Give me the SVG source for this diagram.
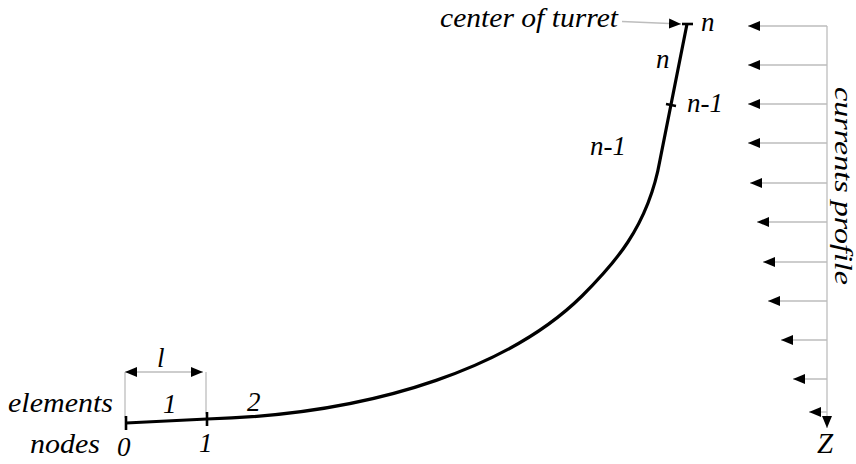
<svg xmlns="http://www.w3.org/2000/svg" width="856" height="464" viewBox="0 0 856 464">
<style>
text{font-family:"Liberation Serif",serif;font-style:italic;font-size:27px;fill:#000}
.g{stroke:#bdbdbd;stroke-width:1.3;fill:none}
.cable{stroke:#000;stroke-width:3.2;fill:none;stroke-linecap:butt}
.tick{stroke:#000;stroke-width:2.6;fill:none}
</style>
<defs>
<marker id="ah" viewBox="0 0 12 10" refX="12" refY="5" markerWidth="12" markerHeight="10" markerUnits="userSpaceOnUse" orient="auto">
<path d="M0,0 L12,5 L0,10 Z" fill="#000"/>
</marker>
<marker id="ahs" viewBox="0 0 12 10" refX="12" refY="5" markerWidth="12" markerHeight="10" markerUnits="userSpaceOnUse" orient="auto-start-reverse">
<path d="M0,0 L12,5 L0,10 Z" fill="#000"/>
</marker>
</defs>
<rect width="856" height="464" fill="#fff"/>

<g id="connectors">
<path class="cable" d="M126,423 L207,419 C 385,414 515,362 582,296 C 612,266 648,228 660,160 L687,24"/>
<line class="g" x1="622" y1="21.5" x2="681" y2="24" marker-end="url(#ah)"/>
<line class="g" x1="125" y1="372" x2="125" y2="418"/>
<line class="g" x1="206" y1="372" x2="206" y2="414"/>
<line class="g" x1="125" y1="372" x2="203" y2="372" marker-start="url(#ahs)" marker-end="url(#ah)"/>
</g>

<g id="currents">
<line class="g" x1="827" y1="26" x2="827" y2="428" marker-end="url(#ah)"/>
<line class="g" x1="827" y1="26" x2="748" y2="26" marker-end="url(#ah)"/>
<line class="g" x1="827" y1="65" x2="748" y2="65" marker-end="url(#ah)"/>
<line class="g" x1="827" y1="104" x2="748" y2="104" marker-end="url(#ah)"/>
<line class="g" x1="827" y1="143" x2="748" y2="143" marker-end="url(#ah)"/>
<line class="g" x1="827" y1="183" x2="750" y2="183" marker-end="url(#ah)"/>
<line class="g" x1="827" y1="222" x2="757" y2="222" marker-end="url(#ah)"/>
<line class="g" x1="827" y1="262" x2="763" y2="262" marker-end="url(#ah)"/>
<line class="g" x1="827" y1="301" x2="768" y2="301" marker-end="url(#ah)"/>
<line class="g" x1="827" y1="340" x2="781" y2="340" marker-end="url(#ah)"/>
<line class="g" x1="827" y1="379" x2="793" y2="379" marker-end="url(#ah)"/>
<line class="g" x1="827" y1="412" x2="809" y2="412" marker-end="url(#ah)"/>
<text transform="translate(835,87) rotate(90)" style="font-size:25px" textLength="198" lengthAdjust="spacingAndGlyphs">currents profile</text>
<text x="817" y="453" style="font-size:29px">Z</text>
</g>

<g id="node0">
<line class="tick" x1="126" y1="416" x2="126" y2="430"/>
<text x="117" y="456">0</text>
</g>
<g id="node1">
<line class="tick" x1="207" y1="412" x2="207" y2="426"/>
<text x="199" y="452">1</text>
</g>
<g id="nodeN1">
<line class="tick" x1="666" y1="104" x2="676" y2="106"/>
<text x="687" y="112">n-1</text>
</g>
<g id="nodeN">
<line class="tick" x1="682" y1="24" x2="693" y2="24"/>
<text x="701" y="31">n</text>
</g>

<g id="labels">
<text x="8" y="412" textLength="105" lengthAdjust="spacingAndGlyphs">elements</text>
<text x="30" y="453" textLength="70" lengthAdjust="spacingAndGlyphs">nodes</text>
<text x="440" y="27" textLength="178" lengthAdjust="spacingAndGlyphs">center of turret</text>
<text x="157" y="367">l</text>
<text x="163" y="413">1</text>
<text x="247" y="411">2</text>
<text x="656" y="68">n</text>
<text x="590" y="155">n-1</text>
</g>
</svg>
